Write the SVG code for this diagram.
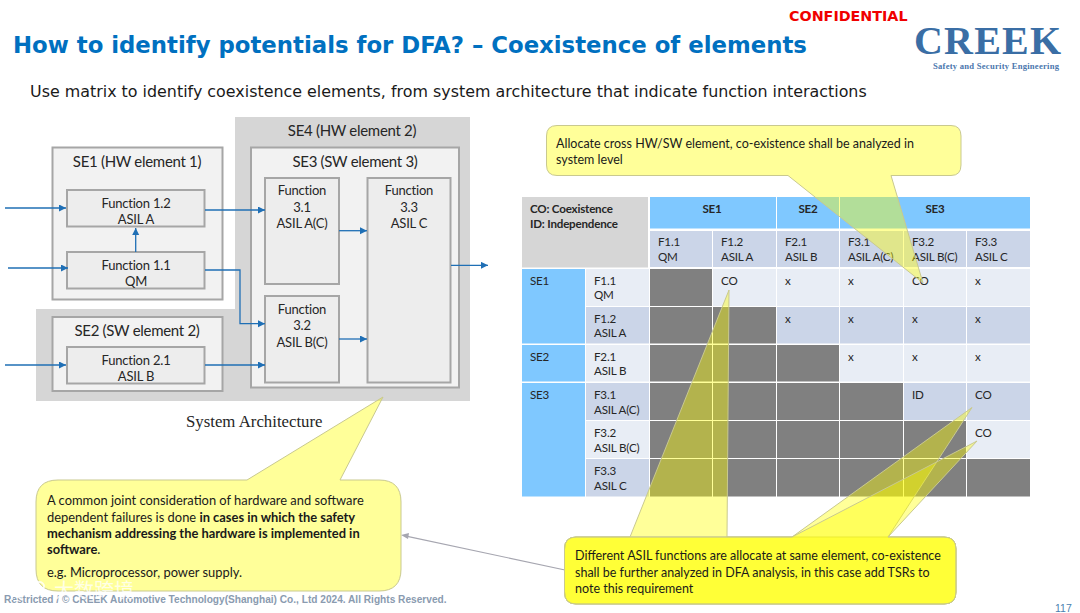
<svg xmlns="http://www.w3.org/2000/svg" width="1080" height="613" viewBox="0 0 1080 613">
<style>
text{font-family:"Lato","Liberation Sans",sans-serif;fill:#262626}
.se{fill:#f2f2f2;stroke:#a6a6a6;stroke-width:2}
.fn{fill:#ededed;stroke:#a6a6a6;stroke-width:2}
.t1{font-size:15px;letter-spacing:-.3px;text-anchor:middle}
.t2{font-size:13px;letter-spacing:-.2px;text-anchor:middle}
.c{font-size:11.6px;letter-spacing:-.2px}
.b{font-weight:700}
.m{text-anchor:middle}
.blue{fill:#7fc8ff}.hd{fill:#cbd5e8}.lt{fill:#e8edf5}.gr{fill:#808080}
.wire{fill:none;stroke:#1f6fb5;stroke-width:1.3;marker-end:url(#a)}
.call{fill:#ffff00;fill-opacity:.4;stroke:#c9c98f;stroke-width:1}
.ct{font-size:12.5px;fill:#1a1a1a}
.cl{font-size:12.9px;fill:#1a1a1a}
</style>
<defs>
<marker id="a" markerWidth="8" markerHeight="8" refX="7" refY="3.5" orient="auto" markerUnits="userSpaceOnUse"><path d="M0 0L7 3.5L0 7Z" fill="#1f6fb5"/></marker>
</defs>
<rect width="1080" height="613" fill="#fff"/>
<text x="13" y="53" style="font-family:'DejaVu Sans',sans-serif;font-weight:700;font-size:22.8px;fill:#0070c0">How to identify potentials for DFA? – Coexistence of elements</text>
<text x="789" y="21" style="font-family:'DejaVu Sans',sans-serif;font-weight:700;font-size:14.3px;fill:#f00000">CONFIDENTIAL</text>
<text x="914" y="54" style="font-family:'Liberation Serif',serif;font-weight:700;font-size:40px;fill:#3a6ea5" textLength="147">CREEK</text>
<text x="933" y="69" style="font-family:'Liberation Serif',serif;font-weight:700;font-size:8.6px;fill:#4a76ad" textLength="126">Safety and Security Engineering</text>
<text x="30" y="97" style="font-family:'DejaVu Sans',sans-serif;font-size:15.9px;fill:#1a1a1a">Use matrix to identify coexistence elements, from system architecture that indicate function interactions</text>

<g id="SE4">
<path d="M235 117H470V401H36V309H235Z" fill="#d6d6d6"/>
<text class="t1" x="352" y="136">SE4 (HW element 2)</text>
</g>
<g id="SE1"><rect class="se" x="52.500" y="147.500" width="170" height="152"/><text class="t1" x="137" y="167">SE1 (HW element 1)</text></g>
<g id="SE2"><rect class="se" x="52.500" y="317" width="170" height="74"/><text class="t1" x="137" y="336">SE2 (SW element 2)</text></g>
<g id="SE3"><rect class="se" x="251" y="147.500" width="208" height="240"/><text class="t1" x="355" y="167">SE3 (SW element 3)</text></g>
<g id="F12"><rect class="fn" x="67" y="190" width="137.500" height="36.500"/><text class="t2" x="136" y="207.500">Function 1.2</text><text class="t2" x="136" y="224">ASIL A</text></g>
<g id="F11"><rect class="fn" x="67" y="252" width="137.500" height="36.500"/><text class="t2" x="136" y="269.500">Function 1.1</text><text class="t2" x="136" y="286">QM</text></g>
<g id="F21"><rect class="fn" x="67" y="347" width="137.500" height="36.500"/><text class="t2" x="136" y="364.500">Function 2.1</text><text class="t2" x="136" y="381">ASIL B</text></g>
<g id="F31"><rect class="fn" x="265" y="178" width="74" height="106"/><text class="t2" x="302" y="195">Function</text><text class="t2" x="302" y="212">3.1</text><text class="t2" x="302" y="228">ASIL A(C)</text></g>
<g id="F32"><rect class="fn" x="265" y="296" width="74" height="86.500"/><text class="t2" x="302" y="314">Function</text><text class="t2" x="302" y="330">3.2</text><text class="t2" x="302" y="347">ASIL B(C)</text></g>
<g id="F33"><rect class="fn" x="367.500" y="178" width="83" height="204.500"/><text class="t2" x="409" y="195">Function</text><text class="t2" x="409" y="212">3.3</text><text class="t2" x="409" y="228">ASIL C</text></g>

<g id="connectors">
<path class="wire" d="M5 208H66"/>
<path class="wire" d="M8 268H68"/>
<path class="wire" d="M5 365H66"/>
<path class="wire" d="M205 210H265"/>
<path class="wire" d="M135.700 252V228"/>
<path class="wire" d="M205 270H240V323.700H265"/>
<path class="wire" d="M205 365H265"/>
<path class="wire" d="M339 230.700H367"/>
<path class="wire" d="M339 339H367"/>
<path class="wire" d="M451 265.300H488"/>
<path d="M565 570L405 535.800" fill="none" stroke="#a6a6b0" stroke-width="1.2"/>
<path d="M401 535L409 533L408 539Z" fill="#a6a6b0"/>
</g>

<text x="186" y="427" style="font-family:'Liberation Serif',serif;font-size:16.8px;fill:#262626">System Architecture</text>

<g id="matrix">
<rect x="522" y="197" width="126" height="70.500" fill="#d6d6d6"/>
<rect class="blue" x="650" y="197" width="126" height="31.500"/>
<rect class="blue" x="777" y="197" width="62" height="31.500"/>
<rect class="blue" x="840" y="197" width="190" height="31.500"/>
<g class="hd">
<rect x="650" y="231" width="62" height="36"/><rect x="713" y="231" width="63" height="36"/><rect x="777" y="231" width="62" height="36"/><rect x="840" y="231" width="63" height="36"/><rect x="904" y="231" width="62" height="36"/><rect x="967" y="231" width="63" height="36"/>
</g>
<rect class="blue" x="522" y="269" width="63" height="74.500"/>
<rect class="blue" x="522" y="345" width="63" height="36.500"/>
<rect class="blue" x="522" y="383" width="63" height="113.500"/>
<g id="row1"><rect class="lt" x="586" y="269" width="63" height="37"/><rect class="gr" x="650" y="269" width="62" height="37"/><rect class="lt" x="713" y="269" width="63" height="37"/><rect class="lt" x="777" y="269" width="62" height="37"/><rect class="lt" x="840" y="269" width="63" height="37"/><rect class="lt" x="904" y="269" width="62" height="37"/><rect class="lt" x="967" y="269" width="63" height="37"/></g>
<g id="row2"><rect class="hd" x="586" y="307" width="63" height="36.500"/><rect class="gr" x="650" y="307" width="62" height="36.500"/><rect class="gr" x="713" y="307" width="63" height="36.500"/><rect class="hd" x="777" y="307" width="62" height="36.500"/><rect class="hd" x="840" y="307" width="63" height="36.500"/><rect class="hd" x="904" y="307" width="62" height="36.500"/><rect class="hd" x="967" y="307" width="63" height="36.500"/></g>
<g id="row3"><rect class="lt" x="586" y="345" width="63" height="36.500"/><rect class="gr" x="650" y="345" width="62" height="36.500"/><rect class="gr" x="713" y="345" width="63" height="36.500"/><rect class="gr" x="777" y="345" width="62" height="36.500"/><rect class="lt" x="840" y="345" width="63" height="36.500"/><rect class="lt" x="904" y="345" width="62" height="36.500"/><rect class="lt" x="967" y="345" width="63" height="36.500"/></g>
<g id="row4"><rect class="hd" x="586" y="383" width="63" height="37"/><rect class="gr" x="650" y="383" width="62" height="37"/><rect class="gr" x="713" y="383" width="63" height="37"/><rect class="gr" x="777" y="383" width="62" height="37"/><rect class="gr" x="840" y="383" width="63" height="37"/><rect class="hd" x="904" y="383" width="62" height="37"/><rect class="hd" x="967" y="383" width="63" height="37"/></g>
<g id="row5"><rect class="lt" x="586" y="421" width="63" height="37"/><rect class="gr" x="650" y="421" width="62" height="37"/><rect class="gr" x="713" y="421" width="63" height="37"/><rect class="gr" x="777" y="421" width="62" height="37"/><rect class="gr" x="840" y="421" width="63" height="37"/><rect class="gr" x="904" y="421" width="62" height="37"/><rect class="lt" x="967" y="421" width="63" height="37"/></g>
<g id="row6"><rect class="hd" x="586" y="459" width="63" height="37.500"/><rect class="gr" x="650" y="459" width="62" height="37.500"/><rect class="gr" x="713" y="459" width="63" height="37.500"/><rect class="gr" x="777" y="459" width="62" height="37.500"/><rect class="gr" x="840" y="459" width="63" height="37.500"/><rect class="gr" x="904" y="459" width="62" height="37.500"/><rect class="gr" x="967" y="459" width="63" height="37.500"/></g>
<text class="c b" x="530" y="213">CO: Coexistence</text><text class="c b" x="530" y="228">ID: Independence</text>
<text class="c b m" x="712" y="213">SE1</text><text class="c b m" x="808" y="213">SE2</text><text class="c b m" x="935" y="213">SE3</text>
<text class="c" x="658" y="246">F1.1</text><text class="c" x="658" y="261">QM</text>
<text class="c" x="721" y="246">F1.2</text><text class="c" x="721" y="261">ASIL A</text>
<text class="c" x="785" y="246">F2.1</text><text class="c" x="785" y="261">ASIL B</text>
<text class="c" x="848" y="246">F3.1</text><text class="c" x="848" y="261">ASIL A(C)</text>
<text class="c" x="912" y="246">F3.2</text><text class="c" x="912" y="261">ASIL B(C)</text>
<text class="c" x="975" y="246">F3.3</text><text class="c" x="975" y="261">ASIL C</text>
<text class="c" x="530" y="285">SE1</text><text class="c" x="530" y="361">SE2</text><text class="c" x="530" y="399">SE3</text>
<text class="c" x="594" y="285">F1.1</text><text class="c" x="594" y="299">QM</text>
<text class="c" x="594" y="323">F1.2</text><text class="c" x="594" y="337">ASIL A</text>
<text class="c" x="594" y="361">F2.1</text><text class="c" x="594" y="375">ASIL B</text>
<text class="c" x="594" y="399">F3.1</text><text class="c" x="594" y="414">ASIL A(C)</text>
<text class="c" x="594" y="437">F3.2</text><text class="c" x="594" y="452">ASIL B(C)</text>
<text class="c" x="594" y="475">F3.3</text><text class="c" x="594" y="490">ASIL C</text>
<text class="c" x="721" y="285">CO</text><text class="c" x="785" y="285">x</text><text class="c" x="848" y="285">x</text><text class="c" x="912" y="285">CO</text><text class="c" x="975" y="285">x</text>
<text class="c" x="785" y="323">x</text><text class="c" x="848" y="323">x</text><text class="c" x="912" y="323">x</text><text class="c" x="975" y="323">x</text>
<text class="c" x="848" y="361">x</text><text class="c" x="912" y="361">x</text><text class="c" x="975" y="361">x</text>
<text class="c" x="912" y="399">ID</text><text class="c" x="975" y="399">CO</text>
<text class="c" x="975" y="437">CO</text>
</g>

<g id="callout-left">
<path class="call" d="M58 480H247L383 397L340 480H379Q401 480 401 502V569Q401 591 379 591H58Q36 591 36 569V502Q36 480 58 480Z"/>
<text class="cl" x="47" y="505">A common joint consideration of hardware and software</text>
<text class="cl" x="47" y="521.500">dependent failures is done <tspan class="b">in cases in which the safety</tspan></text>
<text class="cl" x="47" y="538"><tspan class="b">mechanism addressing the hardware is implemented in</tspan></text>
<text class="cl" x="47" y="554"><tspan class="b">software</tspan>.</text>
<text class="cl" x="47" y="577">e.g. Microprocessor, power supply.</text>
</g>
<g id="callout-top">
<path class="call" d="M557 125.500H951Q961 125.500 961 136V165Q961 175.500 951 175.500H891L923 283L788 175.500H557Q546.500 175.500 546.500 165V136Q546.500 125.500 557 125.500Z"/>
<text class="ct" x="556" y="147.500">Allocate cross HW/SW element, co-existence shall be analyzed in</text>
<text class="ct" x="556" y="164">system level</text>
</g>
<g id="callout-bottom">
<path class="call" d="M576 537H630L729 290L727 537H944Q956 537 956 549V592Q956 604 944 604H576Q564.500 604 564.500 592V549Q564.500 537 576 537Z"/>
<path class="call" d="M576 537H792L972 407.500L888 537H944Q956 537 956 549V592Q956 604 944 604H576Q564.500 604 564.500 592V549Q564.500 537 576 537Z"/>
<path class="call" d="M576 537H792L977 441L888 537H944Q956 537 956 549V592Q956 604 944 604H576Q564.500 604 564.500 592V549Q564.500 537 576 537Z"/>
<text class="ct" x="575" y="560">Different ASIL functions are allocate at same element, co-existence</text>
<text class="ct" x="575" y="576.500">shall be further analyzed in DFA analysis, in this case add TSRs to</text>
<text class="ct" x="575" y="592.500">note this requirement</text>
</g>

<text x="4" y="602.500" style="font-family:'Liberation Sans',sans-serif;font-weight:700;font-size:10.15px;fill:#8a9bb0">Restricted / © CREEK Automotive Technology(Shanghai) Co., Ltd 2024. All Rights Reserved.</text>
<text x="1055" y="612" style="font-family:'Liberation Sans',sans-serif;font-size:10.5px;fill:#4a7fb0">117</text>
<g id="watermark" fill="none" stroke="#fff" stroke-width="2" stroke-opacity=".8">
<path d="M12 584V600M21 586L14 593L22 600"/>
<ellipse cx="30" cy="586" rx="5" ry="4"/><ellipse cx="39" cy="586" rx="5" ry="4"/>
</g>
<text x="54" y="598" style="font-family:'Noto Sans CJK SC',sans-serif;font-size:20px;fill:#fff;fill-opacity:.75">大数跨境</text>
</svg>
